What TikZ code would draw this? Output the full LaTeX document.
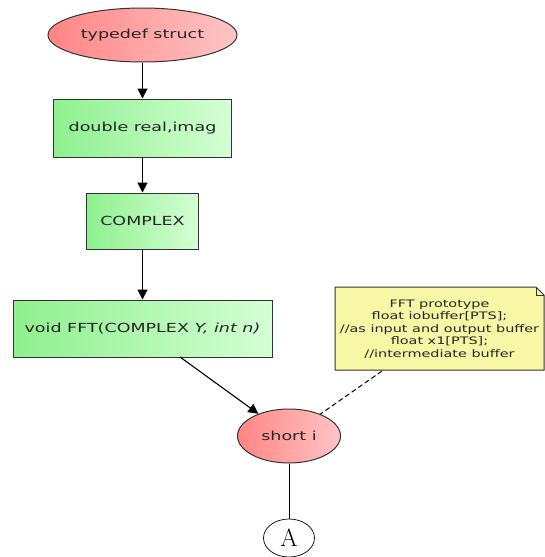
\documentclass[tikz,border=0pt]{standalone}
\usepackage{fontspec}
\setmainfont[FakeStretch=1.4]{DejaVu Sans}
\usetikzlibrary{shapes.geometric,arrows.meta,shapes.misc}
\definecolor{redL}{HTML}{FF8585}
\definecolor{redR}{HTML}{FFC4C4}
\definecolor{grnL}{HTML}{8EF08E}
\definecolor{grnR}{HTML}{D4FFD4}
\definecolor{notefill}{HTML}{F7F7A6}
\begin{document}
\begin{tikzpicture}[x=1pt,y=-1pt,
  ell/.style={ellipse,draw=black!80,line width=1pt,left color=redL,right color=redR,font=\fontsize{12.5}{14}\selectfont,text=black!85,inner sep=0pt},
  box/.style={rectangle,draw=black!80,line width=1pt,left color=grnL,right color=grnR,font=\fontsize{12.5}{14}\selectfont,text=black!85,inner sep=0pt},
  arr/.style={-{Triangle[length=10pt,width=10pt]},line width=1.1pt},
  con/.style={line width=1pt}]
\useasboundingbox (0,0) rectangle (544,557);
\node[ell,minimum width=189pt,minimum height=54pt] (ts) at (142.5,35) {typedef struct};
\node[box,minimum width=178pt,minimum height=58pt] (dr) at (142.5,128) {double real,imag};
\node[box,minimum width=112pt,minimum height=56pt] (cx) at (142.5,221) {COMPLEX};
\node[box,minimum width=259pt,minimum height=57pt] (ff) at (142.5,328.5) {void FFT(COMPLEX \textit{Y, int n)}};
\node[ell,minimum width=103pt,minimum height=54pt] (si) at (289,436) {short i};
\node[ellipse,draw=black,line width=0.7pt,fill=white,minimum width=51pt,minimum height=38pt,inner sep=0pt] (A) at (289,538) {\fontspec{Latin Modern Roman}\fontsize{25}{25}\selectfont A};
% note
\coordinate (n1) at (335,287);
\coordinate (n2) at (536,287);
\coordinate (n3) at (544,295);
\coordinate (n4) at (544,370);
\coordinate (n5) at (335,370);
\filldraw[fill=notefill,draw=black!80,line width=1pt] (n1) -- (n2) -- (n3) -- (n4) -- (n5) -- cycle;
\draw[black!80,line width=0.7pt] (n2) -- (536,295) -- (n3);
\node[align=center,font=\fontsize{10.3}{12.5}\selectfont,text=black!85] (note) at (439.5,329) {FFT prototype\\float iobuffer[PTS];\\//as input and output buffer\\float x1[PTS];\\//intermediate buffer};
\coordinate (nb) at (382,371);
\coordinate (fb) at (180,357);
\draw[arr] (ts) -- (dr);
\draw[arr] (dr) -- (cx);
\draw[arr] (cx) -- (ff);
\draw[arr] (fb) -- (si);
\draw[con,dashed,dash pattern=on 5pt off 3pt] (nb) -- (si);
\draw[con] (si) -- (A);
\end{tikzpicture}
\end{document}
